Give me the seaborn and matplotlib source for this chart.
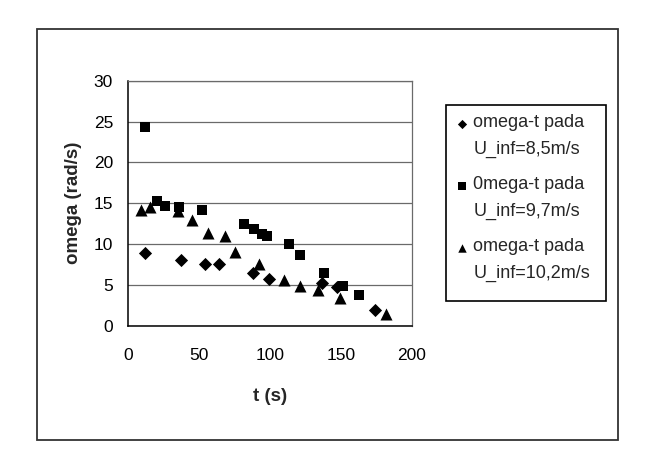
import pandas as pd
import matplotlib
matplotlib.use("Agg")
import matplotlib.pyplot as plt
import seaborn as sns
from matplotlib.patches import Rectangle

# values
t_85 = [11.6, 37, 54.3, 63.8, 88.2, 99.5, 136.7, 147.5, 174.2]
omega_85 = [8.9, 8.0, 7.55, 7.55, 6.5, 5.7, 5.2, 4.8, 1.9]

t_97 = [12, 20.5, 26.1, 35.8, 51.8, 81.6, 88.9, 94.6, 97.9, 113.6, 121.5, 138.2, 151.2, 163]
omega_97 = [24.3, 15.3, 14.6, 14.5, 14.2, 12.45, 11.8, 11.2, 11.0, 9.96, 8.6, 6.5, 4.9, 3.8]

t_102 = [9, 15.3, 35.1, 44.7, 56, 68.2, 75.5, 92, 110, 121.4, 133.6, 149.4, 181.7]
omega_102 = [14.2, 14.5, 14.0, 12.9, 11.4, 11.0, 9.06, 7.6, 5.6, 4.86, 4.4, 3.4, 1.45]

labels = ["omega-t pada\nU_inf=8,5m/s", "0mega-t pada\nU_inf=9,7m/s", "omega-t pada\nU_inf=10,2m/s"]

df = pd.concat([
    pd.DataFrame({"t": t_85, "omega": omega_85, "series": labels[0]}),
    pd.DataFrame({"t": t_97, "omega": omega_97, "series": labels[1]}),
    pd.DataFrame({"t": t_102, "omega": omega_102, "series": labels[2]}),
])

sns.set_style("white")
plt.rcParams["font.family"] = ["Liberation Sans", "DejaVu Sans"]

W, H = 645, 463
fig = plt.figure(figsize=(W / 100, H / 100), dpi=100)
ax = fig.add_axes([128.3 / W, 1 - 325.7 / H, 283.4 / W, 245 / H])

markers = {labels[0]: "D", labels[1]: "s", labels[2]: "^"}
sizes = {labels[0]: 45, labels[1]: 60, labels[2]: 75}
for lab in labels:
    sns.scatterplot(data=df[df["series"] == lab], x="t", y="omega", marker=markers[lab],
                    color="black", edgecolor="black", s=sizes[lab], linewidth=0,
                    ax=ax, label=lab, zorder=3)

ax.set_xlim(0, 200)
ax.set_ylim(0, 30)
ax.set_xticks([0, 50, 100, 150, 200])
ax.set_yticks([0, 5, 10, 15, 20, 25, 30])
ax.yaxis.grid(True, color="#6a6a6a", linewidth=0.9)
ax.xaxis.grid(False)
ax.set_axisbelow(True)

for side in ["left", "bottom"]:
    ax.spines[side].set_color("black")
    ax.spines[side].set_linewidth(1.1)
for side in ["top", "right"]:
    ax.spines[side].set_color("#6a6a6a")
    ax.spines[side].set_linewidth(0.9)

ax.tick_params(axis="both", direction="out", length=5, width=1, colors="black", labelsize=12.5)
ax.tick_params(axis="x", pad=11)
ax.tick_params(axis="y", pad=6)

ax.set_xlabel("t (s)", fontsize=13.5, fontweight="bold", labelpad=18)
ax.set_ylabel("omega (rad/s)", fontsize=13.5, fontweight="bold", labelpad=8)

leg = ax.legend(loc="upper left", bbox_to_anchor=(448 / W, 1 - 105 / H),
                bbox_transform=fig.transFigure, frameon=False, fontsize=13,
                handlelength=0.6, handletextpad=0.3, labelspacing=1.0,
                borderpad=0.5, borderaxespad=0, markerscale=0.7,
                scatteryoffsets=[1.45])
for txt in leg.get_texts():
    txt.set_linespacing(1.75)

# legend frame and outer chart border
fig.patches.append(Rectangle((446 / W, 1 - 301 / H), 160 / W, 196 / H, transform=fig.transFigure,
                             fill=False, edgecolor="black", linewidth=1.2))
fig.patches.append(Rectangle((37 / W, 1 - 440 / H), 581 / W, 411 / H, transform=fig.transFigure,
                             fill=False, edgecolor="#333333", linewidth=1.3))

fig.savefig("out.png", dpi=100)
